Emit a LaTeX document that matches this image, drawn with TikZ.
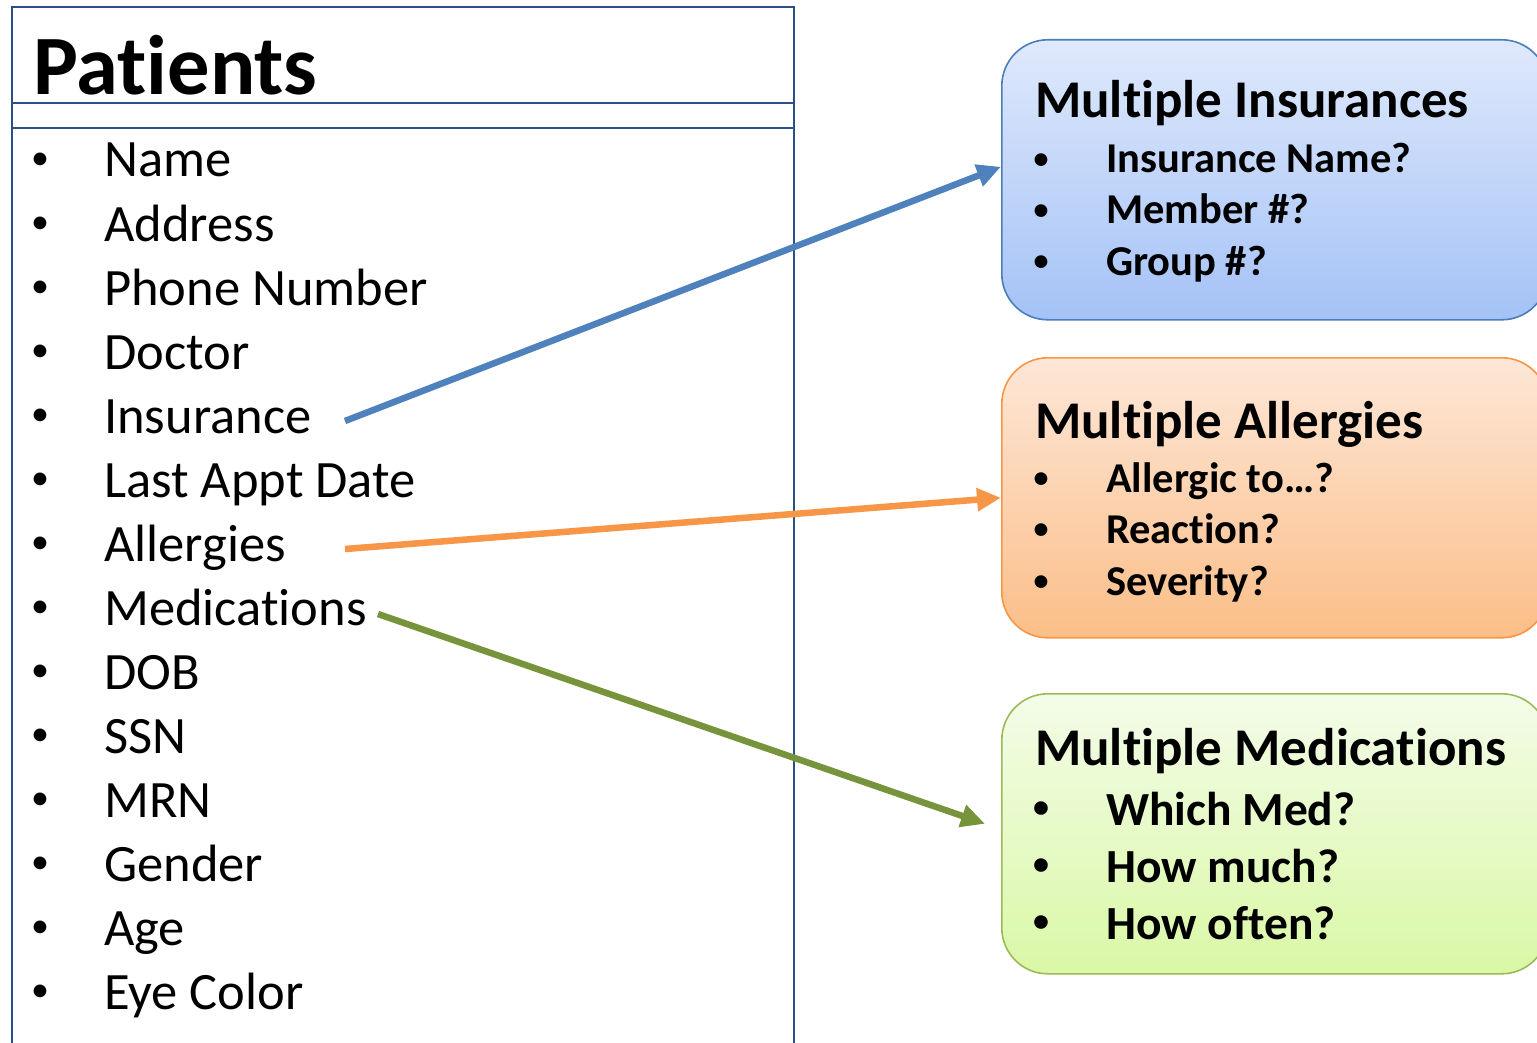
\documentclass[tikz,border=0pt]{standalone}
\usepackage{fontspec}
\setmainfont{Carlito}[Ligatures=NoCommon]
\usetikzlibrary{arrows.meta}
\definecolor{patborder}{HTML}{2A5088}
\definecolor{insborder}{HTML}{4A7EBB}
\definecolor{instop}{HTML}{DFE9FC}
\definecolor{insbot}{HTML}{A4C2F6}
\definecolor{allborder}{HTML}{F79646}
\definecolor{alltop}{HTML}{FDE7D7}
\definecolor{allbot}{HTML}{FBBE88}
\definecolor{medborder}{HTML}{9BBB59}
\definecolor{medtop}{HTML}{F3FCE8}
\definecolor{medbot}{HTML}{DAF8A6}
\definecolor{arrblue}{HTML}{4F81BD}
\definecolor{arrorange}{HTML}{F79646}
\definecolor{arrgreen}{HTML}{77933C}
\tikzset{
  item/.style={anchor=base west, inner sep=0pt, font=\fontsize{52.5}{52.5}\selectfont},
  bul/.style={anchor=center, inner sep=0pt, font=\fontsize{36}{36}\selectfont},
  boxtitle/.style={anchor=base west, inner sep=0pt, font=\fontsize{53}{53}\selectfont\bfseries},
  boxitem/.style={anchor=base west, inner sep=0pt, font=\fontsize{42.5}{42.5}\selectfont\bfseries},
  boxbul/.style={anchor=center, inner sep=0pt, font=\fontsize{30}{30}\selectfont\bfseries},
  meditem/.style={anchor=base west, inner sep=0pt, font=\fontsize{47.5}{47.5}\selectfont\bfseries},
  medbul/.style={anchor=center, inner sep=0pt, font=\fontsize{32}{32}\selectfont\bfseries},
  infobox/.style={anchor=north west, rounded corners=46pt, line width=1.6pt,
    minimum width=546pt, minimum height=280pt, inner sep=0pt},
  link/.style={line width=6.5pt, -{Triangle[length=24pt,width=22pt]}},
}
\begin{document}
\begin{tikzpicture}[x=1pt,y=-1pt]
\useasboundingbox (0,0) rectangle (1537,1043);
\clip (0,0) rectangle (1537,1043);
\fill[white] (0,0) rectangle (1537,1043);
% Patients table
\node[draw=patborder, line width=2.2pt, anchor=north west, minimum width=782pt,
  minimum height=1070pt, inner sep=0pt] (pat) at (11,6) {};
\draw[patborder, line width=2.2pt] (pat.west |- 0,103) coordinate (l1a) -- (pat.east |- l1a);
\draw[patborder, line width=2.2pt] (pat.west |- 0,128) coordinate (l2a) -- (pat.east |- l2a);
\node[anchor=base west, inner sep=0pt, font=\fontsize{84.5}{84.5}\selectfont\bfseries] (pattitle) at (33,95) {Patients};
\foreach \t [count=\i from 0] in {Name,Address,Phone Number,Doctor,Insurance,Last Appt Date,Allergies,Medications,DOB,SSN,MRN,Gender,Age,Eye Color}{
  \node[bul] (b\i) at (40,{161+64*\i}) {•};
  \node[item] (it\i) at (104,{177+64*\i}) {\t};
}
% Insurance box
\node[infobox, draw=insborder, top color=instop, bottom color=insbot] (insbox) at (1001,39) {};
\node[boxtitle] (institle) at (1035,118) {Multiple Insurances};
\foreach \t [count=\i from 0] in {Insurance Name?,Member \#?,Group \#?}{
  \node[boxbul] (ib\i) at (1041,{161+51*\i}) {•};
  \node[boxitem] (ii\i) at (1106,{173+51*\i}) {\t};
}
% Allergies box
\node[infobox, draw=allborder, top color=alltop, bottom color=allbot] (allbox) at (1001,357) {};
\node[boxtitle] (alltitle) at (1035,438) {Multiple Allergies};
\foreach \t [count=\i from 0] in {Allergic to…?,Reaction?,Severity?}{
  \node[boxbul] (ab\i) at (1041,{480+51.5*\i}) {•};
  \node[boxitem] (ai\i) at (1106,{492+51.5*\i}) {\t};
}
% Medications box
\node[infobox, draw=medborder, top color=medtop, bottom color=medbot] (medbox) at (1001,693) {};
\node[boxtitle] (medtitle) at (1035,765) {Multiple Medications};
\foreach \t [count=\i from 0] in {Which Med?,How much?,How often?}{
  \node[medbul] (mb\i) at (1041,{810+57*\i}) {•};
  \node[meditem] (mi\i) at (1106,{825+57*\i}) {\t};
}
% connectors
\coordinate (s1) at (345,421);
\coordinate (s2) at (345,549);
\coordinate (s3) at (378,614);
\draw[link, arrblue] (s1) -- ([yshift=13pt]insbox.west);
\draw[link, arrorange] (s2) -- (allbox.west);
\draw[link, arrgreen] (s3) -- ([xshift=-16pt,yshift=10pt]medbox.west);
\end{tikzpicture}
\end{document}
